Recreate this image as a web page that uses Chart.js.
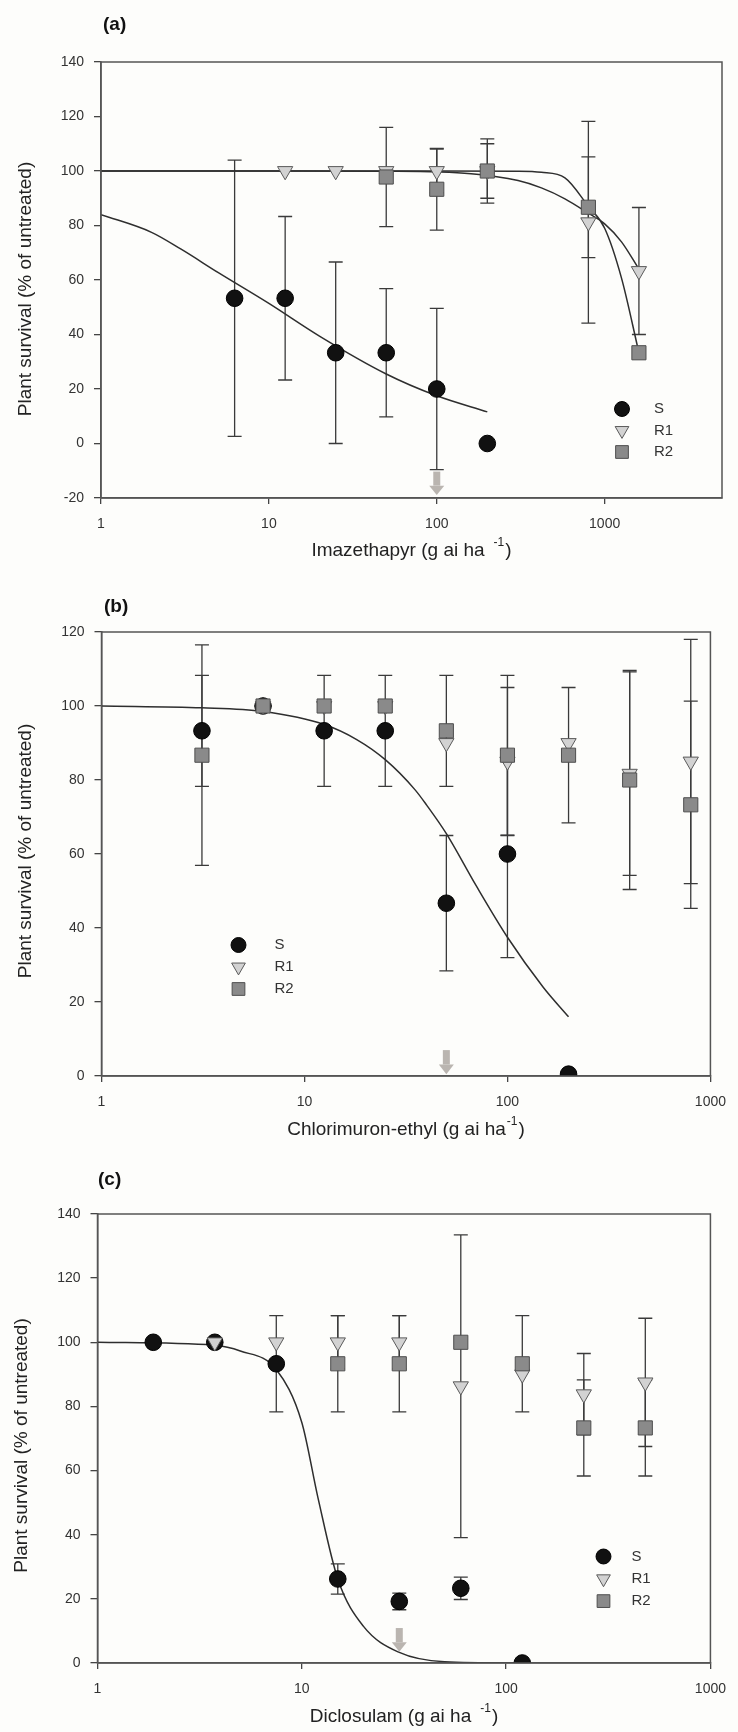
<!DOCTYPE html>
<html><head><meta charset="utf-8">
<script src="https://cdn.jsdelivr.net/npm/chart.js@4.4.0/dist/chart.umd.min.js"></script>
<style>
html,body{margin:0;padding:0;background:#fdfdfb;}
#wrap{position:relative;width:738px;height:1732px;overflow:hidden;}
.panel{position:absolute;left:0;width:738px;}
canvas{display:block}
</style></head><body>
<div id="wrap">
<div class="panel" style="top:0;height:570px"><canvas id="ca" width="738" height="570" style="width:738px;height:570px"></canvas></div>
<div class="panel" style="top:570px;height:575px"><canvas id="cb" width="738" height="575" style="width:738px;height:575px"></canvas></div>
<div class="panel" style="top:1145px;height:587px"><canvas id="cc" width="738" height="587" style="width:738px;height:587px"></canvas></div>
</div>
<script>
// ---------- Data ----------
const seriesNames = ['S', 'R1', 'R2'];
const xTickValues = [1, 10, 100, 1000];
const yTitle = 'Plant survival (% of untreated)';

// (a) Imazethapyr
const dosesA_S  = [6.25, 12.5, 25, 50, 100, 200];
const survA_S   = [53.3, 53.3, 33.3, 33.3, 20, 0];
const errA_S    = [50.7, 30, 33.3, 23.5, 29.6, 0];
const dosesA_R1 = [12.5, 25, 50, 100, 200, 800, 1600];
const survA_R1  = [100, 100, 100, 100, 100, 81.2, 63.3];
const errA_R1   = [0, 0, 0, 8, 10, 37, 23.3];
const dosesA_R2 = [50, 100, 200, 800, 1600];
const survA_R2  = [97.8, 93.3, 100, 86.7, 33.3];
const errA_R2   = [18.2, 15, 11.8, 18.5, 0];
const fitA_S_x  = [1, 2, 3, 5, 10, 20, 50, 100, 200];
const fitA_S_y  = [84, 77.5, 71.3, 62.7, 51.4, 39.4, 25.5, 17.5, 11.6];
const fitA_R1_x = [1, 10, 50, 160, 305, 420, 580, 800, 1000, 1260, 1600];
const fitA_R1_y = [100, 100, 99.9, 99, 96.5, 93.8, 89.8, 84.5, 80.6, 74, 64];
const fitA_R2_x = [1, 10, 100, 300, 420, 580, 800, 1000, 1260, 1600];
const fitA_R2_y = [100, 100, 100, 99.9, 99.5, 97.5, 87, 79, 60.7, 33.3];
const arrowA    = [100, -10.3, -18.9];   // dose, top, tip

// (b) Chlorimuron-ethyl
const dosesB_S  = [3.125, 6.25, 12.5, 25, 50, 100, 200];
const survB_S   = [93.3, 100, 93.3, 93.3, 46.7, 60, 0.5];
const errB_S    = [15, 0, 15, 15, 18.3, 28, 0];
const dosesB_R1 = [6.25, 12.5, 25, 50, 100, 200, 400, 800];
const survB_R1  = [100, 100, 100, 90, 85, 90, 81.7, 85];
const errB_R1   = [0, 0, 0, 0, 20, 0, 27.5, 33];
const dosesB_R2 = [3.125, 6.25, 12.5, 25, 50, 100, 200, 400, 800];
const survB_R2  = [86.7, 100, 100, 100, 93.3, 86.7, 86.7, 80, 73.3];
const errB_R2   = [29.8, 0, 0, 0, 15, 21.6, 18.3, 29.6, 28];
const fitB_S_x  = [1, 3.125, 6.25, 12.5, 18, 25, 35, 40, 50, 70, 100, 150, 200];
const fitB_S_y  = [100, 99.5, 98.5, 95, 91, 85.5, 77.4, 73.2, 65.5, 51.5, 37.5, 24, 16];
const arrowB    = [50, 7, 0.5];

// (c) Diclosulam
const dosesC_S  = [1.875, 3.75, 7.5, 15, 30, 60, 120];
const survC_S   = [100, 100, 93.3, 26.2, 19.2, 23.3, 0];
const errC_S    = [0, 0, 15, 4.7, 2.6, 3.5, 0];
const dosesC_R1 = [3.75, 7.5, 15, 30, 60, 120, 240, 480];
const survC_R1  = [100, 100, 100, 100, 86.3, 90, 83.8, 87.5];
const errC_R1   = [0, 0, 8.3, 8.3, 47.2, 0, 12.7, 20];
const dosesC_R2 = [15, 30, 60, 120, 240, 480];
const survC_R2  = [93.3, 93.3, 100, 93.3, 73.3, 73.3];
const errC_R2   = [15, 15, 0, 15, 15, 15];
const fitC_S_x  = [1, 3.75, 5, 7.5, 10, 12, 15, 20, 30, 50, 120];
const fitC_S_y  = [100, 99.1, 97.3, 91.5, 75, 51.5, 26.2, 11.5, 3.3, 0.4, 0];
const arrowC    = [30, 10.9, 3.5];

// ---------- Styles ----------
const FONT = "'Liberation Sans', Arial, Helvetica, sans-serif";
const INK = '#333333';
const STY = {
  S:  {pointStyle:'circle',   radius:8.3, rotation:0,   bg:'#111111', bd:'#000000'},
  R1: {pointStyle:'triangle', radius:8.8, rotation:180, bg:'#d2d2d2', bd:'#5a5a5a'},
  R2: {pointStyle:'rect',     radius:10,  rotation:0,   bg:'#8a8a8a', bd:'#4e4e4e'}
};

function pts(xs, ys){ return xs.map((x,i)=>({x:x, y:ys[i]})); }

const errorBarPlugin = {
  id:'errorBars',
  beforeDatasetsDraw(chart, args, opts){
    const {ctx, scales:{x, y}} = chart;
    ctx.save();
    ctx.strokeStyle = '#3a3a3a'; ctx.lineWidth = 1.3;
    (opts.sets||[]).forEach(s=>{
      s.x.forEach((d,i)=>{
        const e = s.e[i]; if(!e) return;
        const px = x.getPixelForValue(d);
        const pt = y.getPixelForValue(s.y[i]+e), pb = y.getPixelForValue(s.y[i]-e);
        ctx.beginPath();
        ctx.moveTo(px, pt); ctx.lineTo(px, pb);
        ctx.moveTo(px-7, pt); ctx.lineTo(px+7, pt);
        ctx.moveTo(px-7, pb); ctx.lineTo(px+7, pb);
        ctx.stroke();
      });
    });
    ctx.restore();
  }
};

const decorPlugin = {
  id:'decor',
  afterDraw(chart, args, o){
    const {ctx, chartArea:ca, scales:{x, y}} = chart;
    ctx.save();
    // frame
    ctx.strokeStyle = '#555'; ctx.lineWidth = 1.5;
    ctx.strokeRect(ca.left, ca.top, ca.right-ca.left, ca.bottom-ca.top);
    // panel letter
    ctx.fillStyle = '#111'; ctx.font = 'bold 19px ' + FONT;
    ctx.textBaseline = 'middle'; ctx.textAlign = 'left';
    ctx.fillText(o.letter, o.letterX, o.letterY);
    // y title (rotated)
    ctx.save();
    ctx.translate(o.yTitleX, o.yTitleY);
    ctx.rotate(-Math.PI/2);
    ctx.font = '19px ' + FONT; ctx.fillStyle = '#222'; ctx.textAlign = 'center';
    ctx.fillText(yTitle, 0, 0);
    ctx.restore();
    // x title with superscript
    ctx.font = '19px ' + FONT; ctx.fillStyle = '#222'; ctx.textAlign = 'left';
    const main = o.xTitle, sup = '-1', close = ')';
    const wMain = ctx.measureText(main).width;
    const wClose = ctx.measureText(close).width;
    ctx.font = '12px ' + FONT;
    const wSup = ctx.measureText(sup).width;
    const total = wMain + o.supGap + wSup + 1 + wClose;
    let sx = (ca.left + ca.right)/2 - total/2;
    ctx.font = '19px ' + FONT;
    ctx.fillText(main, sx, o.xTitleY);
    sx += wMain + o.supGap;
    ctx.font = '12px ' + FONT;
    ctx.fillText(sup, sx, o.xTitleY - 8);
    sx += wSup + 1;
    ctx.font = '19px ' + FONT;
    ctx.fillText(close, sx, o.xTitleY);
    // arrow
    const ax = x.getPixelForValue(o.arrow[0]);
    const at = y.getPixelForValue(o.arrow[1]), ab = y.getPixelForValue(o.arrow[2]);
    const headH = (ab - at) * 0.4;
    ctx.fillStyle = '#bab5b0';
    ctx.fillRect(ax-3.5, at, 7, ab-at-headH);
    ctx.beginPath();
    ctx.moveTo(ax-7.5, ab-headH); ctx.lineTo(ax+7.5, ab-headH); ctx.lineTo(ax, ab); ctx.closePath();
    ctx.fill();
    // legend
    ctx.font = '15px ' + FONT; ctx.textBaseline = 'middle';
    seriesNames.forEach((n,i)=>{
      const st = STY[n];
      const ly = o.legY + i*o.legDy;
      ctx.fillStyle = st.bg; ctx.strokeStyle = st.bd; ctx.lineWidth = 1;
      Chart.helpers.drawPoint(ctx, {pointStyle:st.pointStyle, radius:st.radius*0.9, rotation:st.rotation, borderWidth:1}, o.legX, ly);
      ctx.fillStyle = '#333';
      ctx.fillText(n, o.legX + o.legText, ly);
    });
    ctx.restore();
  }
};

function scatterDs(name, xs, ys, order){
  const st = STY[name];
  return {type:'scatter', label:name, data:pts(xs,ys), order:order,
    pointStyle:st.pointStyle, pointRadius:st.radius, pointRotation:st.rotation,
    pointBackgroundColor:st.bg, pointBorderColor:st.bd, pointBorderWidth:1, showLine:false};
}
function curveDs(xs, ys){
  return {type:'line', label:'fit', data:pts(xs,ys), order:10, borderColor:'#2e2e2e', borderWidth:1.5,
    pointRadius:0, fill:false, cubicInterpolationMode:'monotone', tension:0.4};
}

function makePanel(id, p){
  const canvas = document.getElementById(id);
  const H = canvas.height;
  return new Chart(canvas, {
    data:{datasets:p.datasets},
    plugins:[errorBarPlugin, decorPlugin],
    options:{
      responsive:false, animation:false, devicePixelRatio:1,
      layout:{padding:{left:0, right:738-p.right, top:p.top, bottom:0}},
      plugins:{legend:{display:false}, tooltip:{enabled:false},
        errorBars:{sets:p.err}, decor:p.decor},
      scales:{
        x:{type:'logarithmic', min:1, max:p.xMax,
          afterBuildTicks:(s)=>{ s.ticks = xTickValues.filter(v=>v<=p.xMax).map(v=>({value:v})); },
          afterFit:(s)=>{ s.height = H - p.bottom; },
          grid:{display:true, drawOnChartArea:false, drawTicks:true, tickLength:6, color:'#444', lineWidth:1.3},
          border:{display:true, color:'#555', width:1.5},
          ticks:{autoSkip:false, maxRotation:0, padding:12, color:INK, font:{family:FONT, size:14},
            callback:(v)=>String(v)}
        },
        y:{type:'linear', min:p.yMin, max:p.yMax,
          afterFit:(s)=>{ s.width = p.left; },
          grid:{display:true, drawOnChartArea:false, drawTicks:true, tickLength:7, color:'#444', lineWidth:1.3},
          border:{display:true, color:'#555', width:1.5},
          ticks:{stepSize:20, padding:10, color:INK, font:{family:FONT, size:14}},
          title:{display:false}
        }
      }
    }
  });
}

makePanel('ca', {
  left:101, right:722, top:62, bottom:498, xMax:5000, yMin:-20, yMax:140,
  datasets:[curveDs(fitA_S_x, fitA_S_y), curveDs(fitA_R1_x, fitA_R1_y), curveDs(fitA_R2_x, fitA_R2_y),
    scatterDs('S', dosesA_S, survA_S, 3), scatterDs('R1', dosesA_R1, survA_R1, 2), scatterDs('R2', dosesA_R2, survA_R2, 1)],
  err:[{x:dosesA_S,y:survA_S,e:errA_S},{x:dosesA_R1,y:survA_R1,e:errA_R1},{x:dosesA_R2,y:survA_R2,e:errA_R2}],
  decor:{letter:'(a)', letterX:103, letterY:25, xTitle:'Imazethapyr (g ai ha', supGap:9, xTitleY:551,
    yTitleX:26, yTitleY:289,
    arrow:arrowA, legX:622, legY:409, legDy:21.5, legText:32}
});
makePanel('cb', {
  left:101.5, right:722, top:62, bottom:506, xMax:1000, yMin:0, yMax:120,
  datasets:[curveDs(fitB_S_x, fitB_S_y),
    scatterDs('S', dosesB_S, survB_S, 3), scatterDs('R1', dosesB_R1, survB_R1, 2), scatterDs('R2', dosesB_R2, survB_R2, 1)],
  err:[{x:dosesB_S,y:survB_S,e:errB_S},{x:dosesB_R1,y:survB_R1,e:errB_R1},{x:dosesB_R2,y:survB_R2,e:errB_R2}],
  decor:{letter:'(b)', letterX:104, letterY:37, xTitle:'Chlorimuron-ethyl (g ai ha', supGap:1, xTitleY:560,
    yTitleX:26, yTitleY:281,
    arrow:arrowB, legX:238.5, legY:375, legDy:22, legText:36}
});
makePanel('cc', {
  left:97.5, right:723, top:69, bottom:518, xMax:1000, yMin:0, yMax:140,
  datasets:[curveDs(fitC_S_x, fitC_S_y),
    scatterDs('S', dosesC_S, survC_S, 3), scatterDs('R1', dosesC_R1, survC_R1, 2), scatterDs('R2', dosesC_R2, survC_R2, 1)],
  err:[{x:dosesC_S,y:survC_S,e:errC_S},{x:dosesC_R1,y:survC_R1,e:errC_R1},{x:dosesC_R2,y:survC_R2,e:errC_R2}],
  decor:{letter:'(c)', letterX:98, letterY:35, xTitle:'Diclosulam (g ai ha', supGap:9, xTitleY:572,
    yTitleX:21.5, yTitleY:300.5,
    arrow:arrowC, legX:603.5, legY:411.5, legDy:22.3, legText:28}
});
</script>
</body></html>
